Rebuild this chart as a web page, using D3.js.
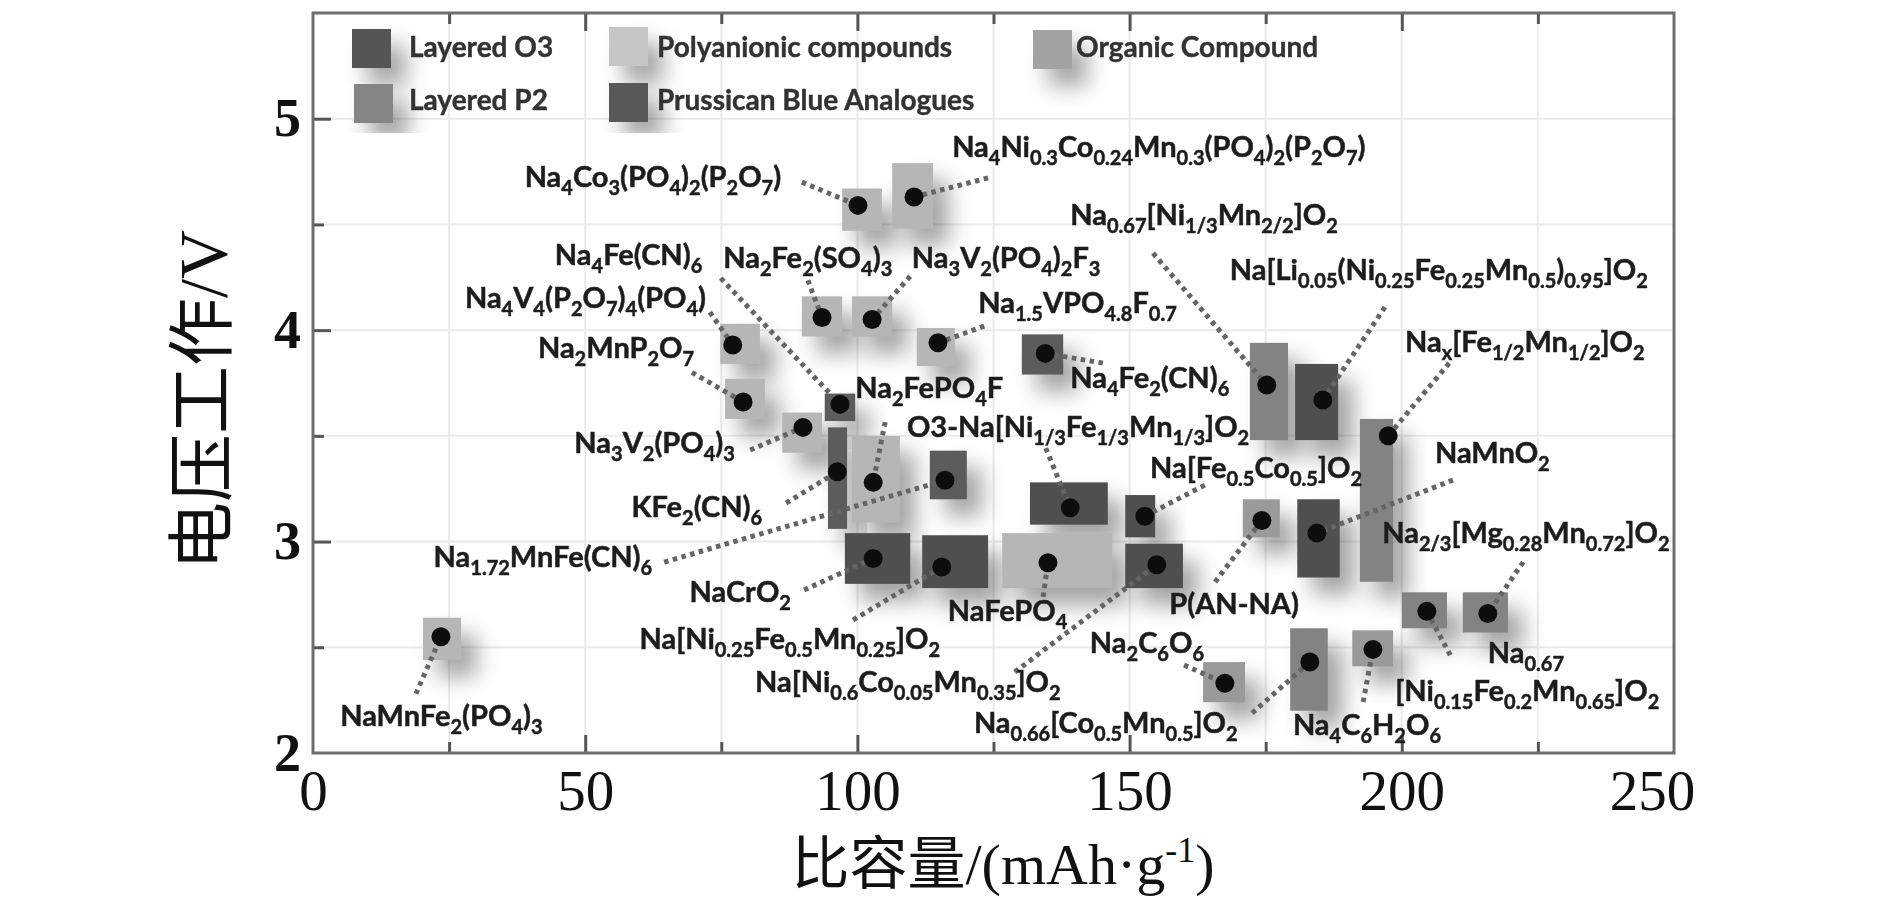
<!DOCTYPE html>
<html><head><meta charset="utf-8">
<script src="https://cdn.jsdelivr.net/npm/d3@7/dist/d3.min.js"></script>
<style>html,body{margin:0;padding:0;background:#fff;}svg{display:block;}</style>
</head><body>
<svg id="chart" width="1890" height="898"></svg>
<script>
// ---------------- DATA ----------------
const categories = ["Layered O3","Layered P2","Polyanionic compounds","Prussican Blue Analogues","Organic Compound"];
const xTicks = [0,50,100,150,200,250];
const yTicks = [2,3,4,5];
const xTitle = "比容量/(mAh·g^{-1})";
const yTitle = "电压工作/V";

const materialNames = [
 "NaMnFe_{2}(PO_{4})_{3}",
 "Na_{4}Co_{3}(PO_{4})_{2}(P_{2}O_{7})",
 "Na_{4}Ni_{0.3}Co_{0.24}Mn_{0.3}(PO_{4})_{2}(P_{2}O_{7})",
 "Na_{4}Fe(CN)_{6}",
 "Na_{2}Fe_{2}(SO_{4})_{3}",
 "Na_{3}V_{2}(PO_{4})_{2}F_{3}",
 "Na_{4}V_{4}(P_{2}O_{7})_{4}(PO_{4})",
 "Na_{2}MnP_{2}O_{7}",
 "Na_{1.5}VPO_{4.8}F_{0.7}",
 "Na_{4}Fe_{2}(CN)_{6}",
 "Na_{2}FePO_{4}F",
 "O3-Na[Ni_{1/3}Fe_{1/3}Mn_{1/3}]O_{2}",
 "Na_{3}V_{2}(PO_{4})_{3}",
 "KFe_{2}(CN)_{6}",
 "Na_{1.72}MnFe(CN)_{6}",
 "NaCrO_{2}",
 "Na[Ni_{0.25}Fe_{0.5}Mn_{0.25}]O_{2}",
 "NaFePO_{4}",
 "Na[Ni_{0.6}Co_{0.05}Mn_{0.35}]O_{2}",
 "Na[Fe_{0.5}Co_{0.5}]O_{2}",
 "P(AN-NA)",
 "Na_{2}C_{6}O_{6}",
 "Na_{0.66}[Co_{0.5}Mn_{0.5}]O_{2}",
 "Na_{4}C_{6}H_{2}O_{6}",
 "Na_{0.67}[Ni_{1/3}Mn_{2/2}]O_{2}",
 "Na[Li_{0.05}(Ni_{0.25}Fe_{0.25}Mn_{0.5})_{0.95}]O_{2}",
 "Na_{x}[Fe_{1/2}Mn_{1/2}]O_{2}",
 "NaMnO_{2}",
 "Na_{2/3}[Mg_{0.28}Mn_{0.72}]O_{2}",
 "Na_{0.67}|[Ni_{0.15}Fe_{0.2}Mn_{0.65}]O_{2}"
];
// index into categories
const materialCategory = [2,2,2,3,2,2,2,2,2,3,2,0,2,3,3,0,0,2,0,0,4,4,1,4,1,0,1,0,1,1];
// specific capacity range (mAh/g)
const capacityRange = [
 [20.2,27.2],[97.2,104.5],[106.4,113.9],[94.0,99.6],[89.8,97.2],[99.0,106.4],[74.8,82.1],[75.7,83.0],
 [110.9,117.9],[130.2,137.8],[99.0,107.8],[131.7,146.0],[86.2,93.5],[94.6,98.1],[113.3,120.1],[97.7,109.7],
 [111.9,124.0],[126.6,146.8],[149.2,159.8],[149.2,154.7],[170.8,177.6],[163.5,171.2],[179.5,186.4],[190.9,198.4],
 [172.1,179.1],[180.4,188.3],[192.3,198.4],[180.8,188.6],[211.2,219.5],[200.0,208.3]
];
// working voltage range (V)
const voltageRange = [
 [2.44,2.64],[4.47,4.67],[4.48,4.79],[3.57,3.70],[3.97,4.16],[3.97,4.16],[3.84,4.03],[3.58,3.77],
 [3.83,4.01],[3.79,3.98],[3.09,3.50],[3.08,3.28],[3.42,3.61],[3.06,3.54],[3.20,3.43],[2.80,3.04],
 [2.78,3.03],[2.78,3.04],[2.78,2.99],[3.02,3.22],[3.02,3.20],[2.24,2.43],[2.20,2.59],[2.41,2.58],
 [3.48,3.94],[3.48,3.84],[2.81,3.58],[2.83,3.20],[2.57,2.76],[2.59,2.76]
];
const dotCapacity = [23.5,100.1,110.4,96.8,93.5,102.7,77.1,79.0,114.8,134.5,102.9,139.1,90.0,96.3,116.1,102.9,
 115.5,135.0,155.0,152.8,174.3,167.5,183.1,194.7,175.2,185.5,197.5,184.4,215.8,204.6];
const dotVoltage = [2.55,4.59,4.63,3.65,4.06,4.05,3.93,3.66,3.94,3.89,3.28,3.16,3.54,3.33,3.29,2.92,
 2.88,2.90,2.89,3.12,3.10,2.33,2.43,2.49,3.74,3.67,3.50,3.04,2.66,2.67];

// ---------------- LAYOUT (annotation placement, in data units) ----------------
const labelLayout = [
 [[5.0,2.13,"start"]],[[86.0,4.676,"end"]],[[117.4,4.82,"start"]],[[71.5,4.307,"end"]],
 [[106.4,4.293,"end"]],[[110.0,4.293,"start"]],[[72.2,4.104,"end"]],[[70.0,3.87,"end"]],
 [[122.2,4.08,"start"]],[[139.1,3.726,"start"]],[[99.6,3.68,"start"]],[[109.1,3.495,"start"]],
 [[77.5,3.42,"end"]],[[82.5,3.116,"end"]],[[62.3,2.88,"end"]],[[87.8,2.714,"end"]],
 [[115.2,2.492,"end"]],[[116.6,2.624,"start"]],[[81.2,2.288,"start"]],[[192.7,3.30,"end"]],
 [[181.1,2.657,"end"]],[[142.7,2.473,"start"]],[[121.4,2.095,"start"]],[[180.0,2.085,"start"]],
 [[139.1,4.496,"start"]],[[168.4,4.236,"start"]],[[200.6,3.896,"start"]],[[206.1,3.371,"start"]],
 [[196.4,2.993,"start"]],[[215.8,2.425,"start"],[198.8,2.245,"start"]]
];
const leaderStart = [
 [18.9,2.28],[89.8,4.70],[124.0,4.72],[74.9,4.246],[90.9,4.236],[109.7,4.255],[72.9,4.085],[69.6,3.80],
 [123.3,4.019],[145.1,3.844],[105.1,3.565],[134.6,3.442],[80.3,3.433],[86.9,3.182],[64.5,2.903],[90.2,2.771],
 [99.2,2.629],[134.1,2.738],[128.9,2.383],[163.8,3.267],[165.7,2.809],[160.0,2.416],[172.5,2.189],[192.9,2.241],
 [154.3,4.364],[196.9,4.109],[208.7,3.844],[209.4,3.291],[222.3,2.903],[208.9,2.463]
];

// ---------------- STYLES ----------------
const catColor = ["#505050","#838383","#b6b6b6","#5c5c5c","#9a9a9a"];
const legendColor = ["#555555","#858585","#c6c6c6","#585858","#a2a2a2"];
const labelFont = "Lato, 'Open Sans', sans-serif";
const FS = 29, SUB = 20, SHIFT = 8;

// ---------------- DRAW ----------------
const svg = d3.select("#chart");
const x = d3.scaleLinear().domain([0,250]).range([313,1674]);
const y = d3.scaleLinear().domain([2,5.5]).range([753,13]);

const defs = svg.append("defs");
const sh = defs.append("filter").attr("id","shadow").attr("x","-100%").attr("y","-100%").attr("width","300%").attr("height","300%");
sh.append("feGaussianBlur").attr("in","SourceAlpha").attr("stdDeviation",11).attr("result","b");
sh.append("feOffset").attr("in","b").attr("dx",15).attr("dy",17).attr("result","o");
sh.append("feFlood").attr("flood-color","#000").attr("flood-opacity",0.36).attr("result","c");
sh.append("feComposite").attr("in","c").attr("in2","o").attr("operator","in");
const soft = defs.append("filter").attr("id","soft");
soft.append("feGaussianBlur").attr("stdDeviation",0.7);

svg.append("rect").attr("width",1890).attr("height",898).attr("fill","#fff");

// grid
const grid = svg.append("g");
grid.selectAll(".gv").data(d3.range(25,250,25)).join("line")
  .attr("x1",d=>x(d)).attr("x2",d=>x(d)).attr("y1",y(5.5)).attr("y2",y(2))
  .attr("stroke","#ebebeb").attr("stroke-width",2);
grid.selectAll(".gh").data(d3.range(2.5,5.5,0.5)).join("line")
  .attr("y1",d=>y(d)).attr("y2",d=>y(d)).attr("x1",x(0)).attr("x2",x(250))
  .attr("stroke","#ebebeb").attr("stroke-width",2);

// inward ticks via d3 axes
function tickAxis(axisFn, scale, vals, size, transform){
  const g = svg.append("g").attr("transform",transform)
    .call(axisFn(scale).tickValues(vals).tickSize(size).tickFormat(""));
  g.select(".domain").remove();
  g.selectAll("line").attr("stroke","#555").attr("stroke-width",3);
}
const xMaj = [50,100,150,200], xMin = [25,75,125,175,225];
const yMaj = [3,4,5], yMin = [2.5,3.5,4.5];
tickAxis(d3.axisBottom, x, xMaj, -18, `translate(0,${y(2)})`);
tickAxis(d3.axisBottom, x, xMin, -11, `translate(0,${y(2)})`);
tickAxis(d3.axisTop, x, xMaj, -18, `translate(0,${y(5.5)})`);
tickAxis(d3.axisTop, x, xMin, -11, `translate(0,${y(5.5)})`);
tickAxis(d3.axisLeft, y, yMaj, -18, `translate(${x(0)},0)`);
tickAxis(d3.axisLeft, y, yMin, -11, `translate(${x(0)},0)`);

// frame
svg.append("rect").attr("x",x(0)).attr("y",y(5.5)).attr("width",x(250)-x(0)).attr("height",y(2)-y(5.5))
  .attr("fill","none").attr("stroke","#6e6e6e").attr("stroke-width",3);

// rich text helper (_{} subscript, ^{} superscript)
function rich(textSel, str, fs, sub, shift){
  const re = /([_^])\{([^}]*)\}/g;
  let last = 0, m, state = 0;
  const parts = [];
  while((m = re.exec(str))){
    if(m.index>last) parts.push({t:str.slice(last,m.index), k:0});
    parts.push({t:m[2], k:m[1]==="_"?1:-1});
    last = re.lastIndex;
  }
  if(last<str.length) parts.push({t:str.slice(last), k:0});
  parts.forEach(p=>{
    const target = p.k*shift;
    const ts = textSel.append("tspan").text(p.t).attr("dy", target - state);
    if(p.k!==0) ts.attr("font-size", sub);
    state = target;
  });
}

const data = materialNames.map((n,i)=>({i, name:n, cat:materialCategory[i],
  c:capacityRange[i], v:voltageRange[i], dc:dotCapacity[i], dv:dotVoltage[i],
  lab:labelLayout[i], ls:leaderStart[i]}));

const plot = svg.append("g").attr("filter","url(#soft)");

// shadows
plot.append("g").selectAll("rect").data(data).join("rect")
  .attr("x",d=>x(d.c[0])).attr("y",d=>y(d.v[1]))
  .attr("width",d=>x(d.c[1])-x(d.c[0])).attr("height",d=>y(d.v[0])-y(d.v[1]))
  .attr("fill","#000").attr("filter","url(#shadow)");
// rects
plot.append("g").selectAll("rect").data(data).join("rect")
  .attr("x",d=>x(d.c[0])).attr("y",d=>y(d.v[1]))
  .attr("width",d=>x(d.c[1])-x(d.c[0])).attr("height",d=>y(d.v[0])-y(d.v[1]))
  .attr("fill",d=>catColor[d.cat]);
// leaders
plot.append("g").selectAll("line").data(data).join("line")
  .attr("x1",d=>x(d.ls[0])).attr("y1",d=>y(d.ls[1]))
  .attr("x2",d=>x(d.dc)).attr("y2",d=>y(d.dv))
  .attr("stroke","#656565").attr("stroke-width",5).attr("stroke-dasharray","4.5 4.5");
// dots
plot.append("g").selectAll("circle").data(data).join("circle")
  .attr("cx",d=>x(d.dc)).attr("cy",d=>y(d.dv)).attr("r",9.5).attr("fill","#111");
// labels
const lg = plot.append("g").attr("font-family",labelFont).attr("font-weight","bold")
  .attr("font-size",FS).attr("fill","#1f1f1f").attr("stroke","#1f1f1f").attr("stroke-width",0.5);
data.forEach(d=>{
  const lines = d.name.split("|");
  lines.forEach((ln,k)=>{
    const p = d.lab[k];
    const t = lg.append("text").attr("x",x(p[0])).attr("y",y(p[1])).attr("text-anchor",p[2]);
    rich(t, ln, FS, SUB, SHIFT);
  });
});

// legend
const legendPos = [[352,29,409,57],[354,84,409,110],[609,27,657,57],[609,83,657,110],[1033,30,1076,57]];
const leg = svg.append("g").attr("filter","url(#soft)");
categories.forEach((c,i)=>{
  const p = legendPos[i];
  leg.append("rect").attr("x",p[0]).attr("y",p[1]).attr("width",39).attr("height",39)
    .attr("fill","#000").attr("filter","url(#shadow)");
});
categories.forEach((c,i)=>{
  const p = legendPos[i];
  leg.append("rect").attr("x",p[0]).attr("y",p[1]).attr("width",39).attr("height",39).attr("fill",legendColor[i]);
  leg.append("text").attr("x",p[2]).attr("y",p[3]).text(c)
    .attr("font-family",labelFont).attr("font-weight","bold").attr("font-size",28)
    .attr("fill","#333").attr("stroke","#333").attr("stroke-width",0.4);
});

// axis tick labels
const ax = svg.append("g").attr("transform",`translate(0,${y(2)})`)
  .call(d3.axisBottom(x).tickValues(xTicks).tickSize(0).tickPadding(17).tickFormat(d3.format("d")));
ax.select(".domain").remove();
ax.selectAll("text").attr("font-family","'Liberation Serif', serif").attr("font-size",57).attr("fill","#111")
  .attr("dx", d => d===250 ? -22 : 0);
const ay = svg.append("g").attr("transform",`translate(${x(0)},0)`)
  .call(d3.axisLeft(y).tickValues(yTicks).tickSize(0).tickPadding(12).tickFormat(d3.format("d")));
ay.select(".domain").remove();
ay.selectAll("text").attr("font-family","'Liberation Serif', serif").attr("font-weight","bold")
  .attr("font-size",54).attr("fill","#111");

// axis titles
const xt = svg.append("text").attr("x",1003).attr("y",884).attr("text-anchor","middle")
  .attr("font-family","'Liberation Serif','Noto Sans CJK SC',serif").attr("font-size",58).attr("fill","#111");
rich(xt, xTitle, 58, 36, 22);
svg.append("text").attr("transform","translate(226,400) rotate(-90)").attr("text-anchor","middle")
  .attr("font-family","'Liberation Serif','Noto Sans CJK SC',serif").attr("font-size",68).attr("fill","#111")
  .text(yTitle);
</script>
</body></html>
